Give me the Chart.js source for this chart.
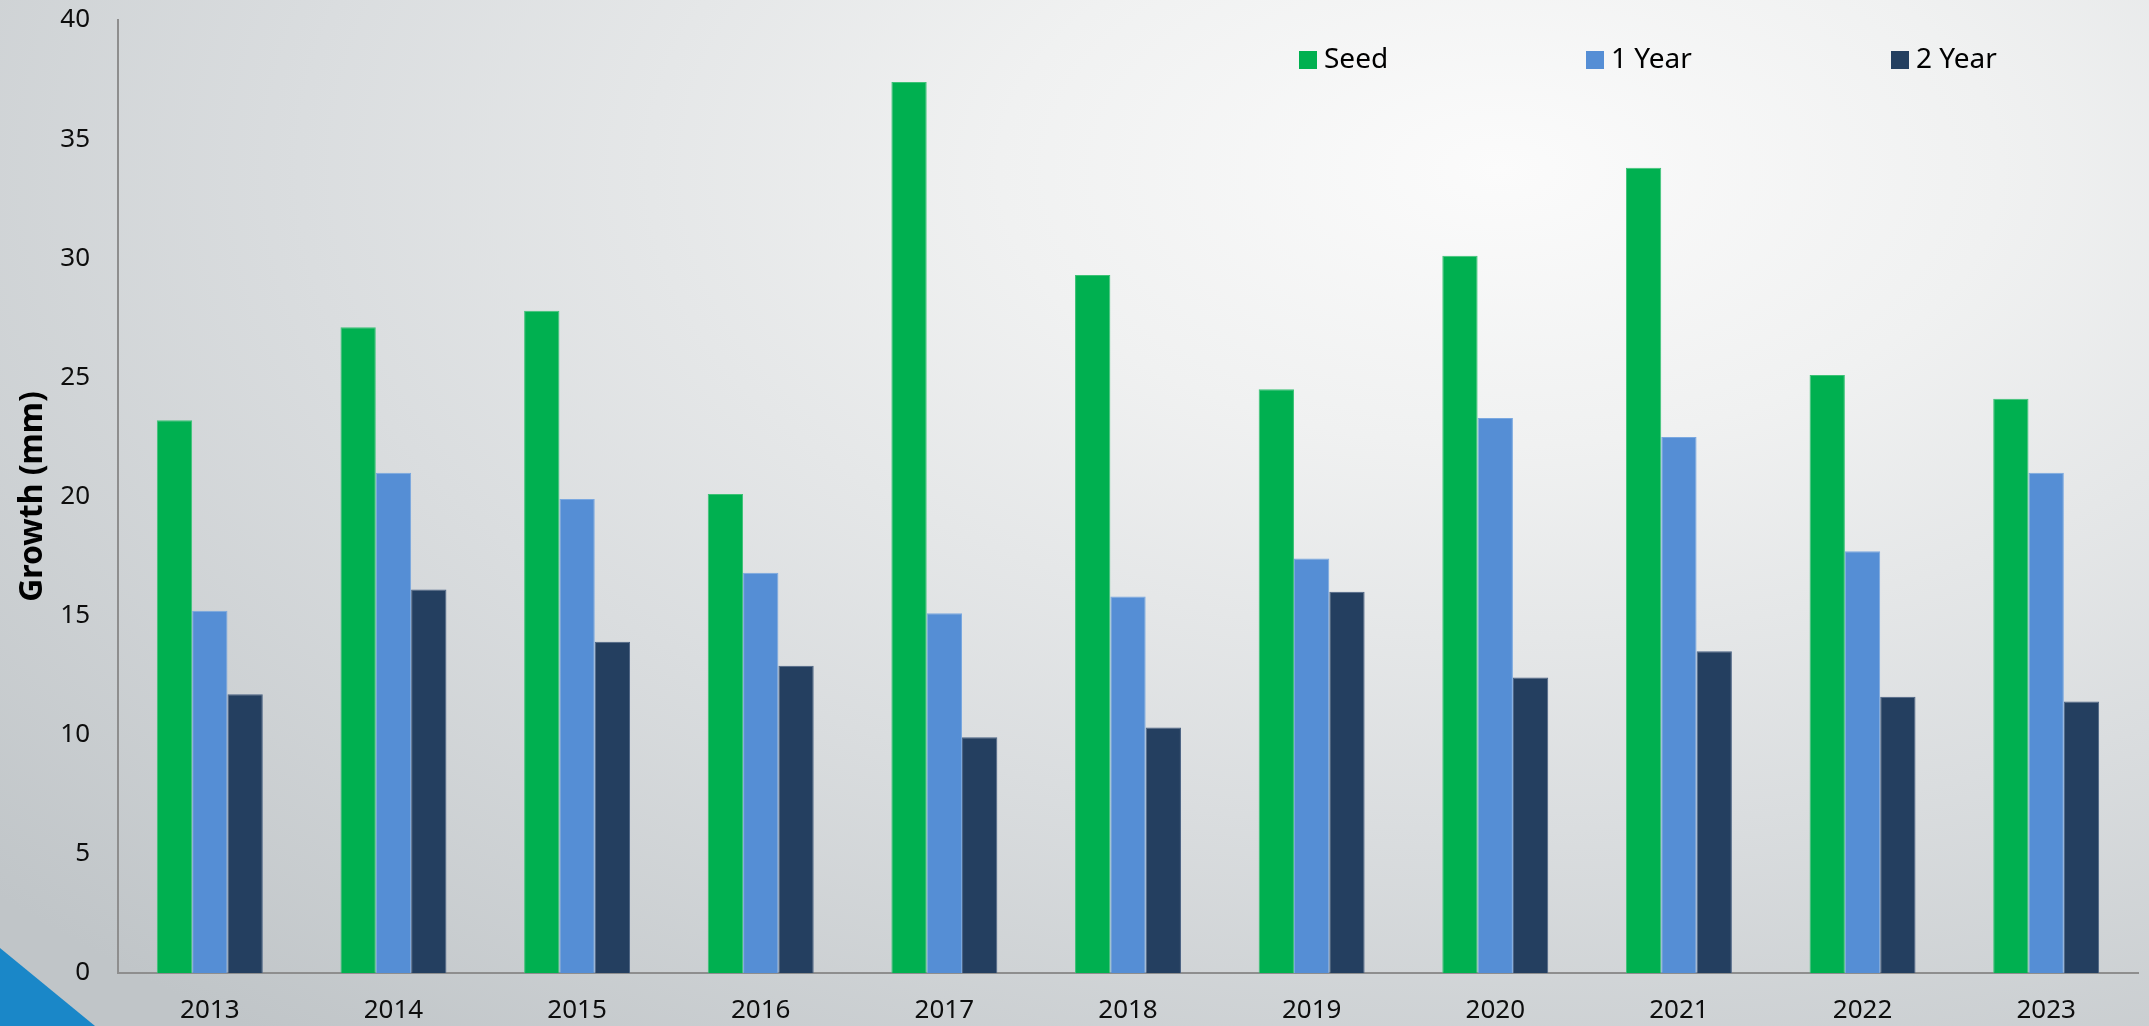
<!DOCTYPE html>
<html>
<head>
<meta charset="utf-8">
<title>Growth by year</title>
<script src="https://cdn.jsdelivr.net/npm/chart.js@4.4.1/dist/chart.umd.min.js"></script>
<style>
    html, body { margin: 0; padding: 0; overflow: hidden; background: #d4d8da; }
    #chart { display: block; }
</style>
</head>
<body>
<canvas id="chart" width="2149" height="1026"></canvas>
<script>
// Chart values
const years = ['2013', '2014', '2015', '2016', '2017', '2018', '2019', '2020', '2021', '2022', '2023'];
const seedGrowth = [23.2, 27.1, 27.8, 20.1, 37.4, 29.3, 24.5, 30.1, 33.8, 25.1, 24.1];
const oneYearGrowth = [15.2, 21.0, 19.9, 16.8, 15.1, 15.8, 17.4, 23.3, 22.5, 17.7, 21.0];
const twoYearGrowth = [11.7, 16.1, 13.9, 12.9, 9.9, 10.3, 16.0, 12.4, 13.5, 11.6, 11.4];
const seriesNames = ['Seed', '1 Year', '2 Year'];
const seriesColors = ['#00B050', '#558ED5', '#243F60'];
const seriesEdges = ['#3cc276', '#7aa8e0', '#4a6283'];

const FONT = '"Noto Sans", "Open Sans", sans-serif';

// Slide style background: soft radial light plus the blue corner
const backgroundPlugin = {
    id: 'slideBackground',
    beforeDraw: function (chart) {
        const ctx = chart.ctx;
        const w = chart.width, h = chart.height;
        const cx = 1500, cy = 170, sy = 0.55;
        ctx.save();
        ctx.translate(cx, cy);
        ctx.scale(1, sy);
        const g = ctx.createRadialGradient(0, 0, 0, 0, 0, 2000);
        g.addColorStop(0, '#fbfbfb');
        g.addColorStop(0.25, '#f0f1f1');
        g.addColorStop(0.6, '#dadddf');
        g.addColorStop(1, '#c0c5c8');
        ctx.fillStyle = g;
        ctx.fillRect(-cx, -cy / sy, w, h / sy);
        ctx.restore();

        ctx.save();
        ctx.fillStyle = '#1A87C8';
        ctx.beginPath();
        ctx.moveTo(0, 948);
        ctx.lineTo(95, h);
        ctx.lineTo(0, h);
        ctx.closePath();
        ctx.fill();
        ctx.restore();
    }
};

// Legend drawn inside the plot area, items spread out like the original
const legendSlots = [1299, 1586, 1891];
const legendPlugin = {
    id: 'spreadLegend',
    afterDraw: function (chart) {
        const ctx = chart.ctx;
        ctx.save();
        ctx.font = '28px ' + FONT;
        ctx.textBaseline = 'middle';
        ctx.textAlign = 'left';
        chart.data.datasets.forEach(function (ds, i) {
            const x = legendSlots[i];
            ctx.fillStyle = ds.backgroundColor;
            ctx.fillRect(x, 51, 18, 18);
            ctx.fillStyle = '#000000';
            ctx.fillText(ds.label, x + 25, 60);
        });
        ctx.restore();
    }
};

const datasets = [seedGrowth, oneYearGrowth, twoYearGrowth].map(function (values, i) {
    return {
        label: seriesNames[i],
        data: values,
        backgroundColor: seriesColors[i],
        borderColor: seriesEdges[i],
        borderWidth: 1,
        categoryPercentage: 0.577,
        barPercentage: 1.0
    };
});

const chart = new Chart(document.getElementById('chart'), {
    type: 'bar',
    data: { labels: years, datasets: datasets },
    options: {
        responsive: false,
        animation: false,
        layout: { padding: { left: 0, top: 20, right: 11, bottom: 0 } },
        plugins: {
            legend: { display: false },
            tooltip: { enabled: false }
        },
        scales: {
            x: {
                grid: { display: false, drawTicks: false },
                border: { display: true, color: '#8E8E8E', width: 2 },
                ticks: { color: '#0d0d0d', padding: 22, font: { family: FONT, size: 26 } },
                afterFit: function (scale) {
                    scale.height = 53;
                    scale.paddingLeft = 0;
                    scale.paddingRight = 0;
                }
            },
            y: {
                min: 0,
                max: 40,
                grid: { display: false, drawTicks: false },
                border: { display: true, color: '#8E8E8E', width: 2 },
                ticks: { stepSize: 5, color: '#0d0d0d', padding: 28, font: { family: FONT, size: 26 } },
                title: {
                    display: true,
                    text: 'Growth (mm)',
                    color: '#000000',
                    padding: { top: 14, bottom: 0 },
                    font: { family: FONT, size: 32, weight: 'bold' }
                },
                afterFit: function (scale) {
                    scale.width = 118;
                    scale.paddingTop = 0;
                    scale.paddingBottom = 0;
                }
            }
        }
    },
    plugins: [backgroundPlugin, legendPlugin]
});
</script>
</body>
</html>
